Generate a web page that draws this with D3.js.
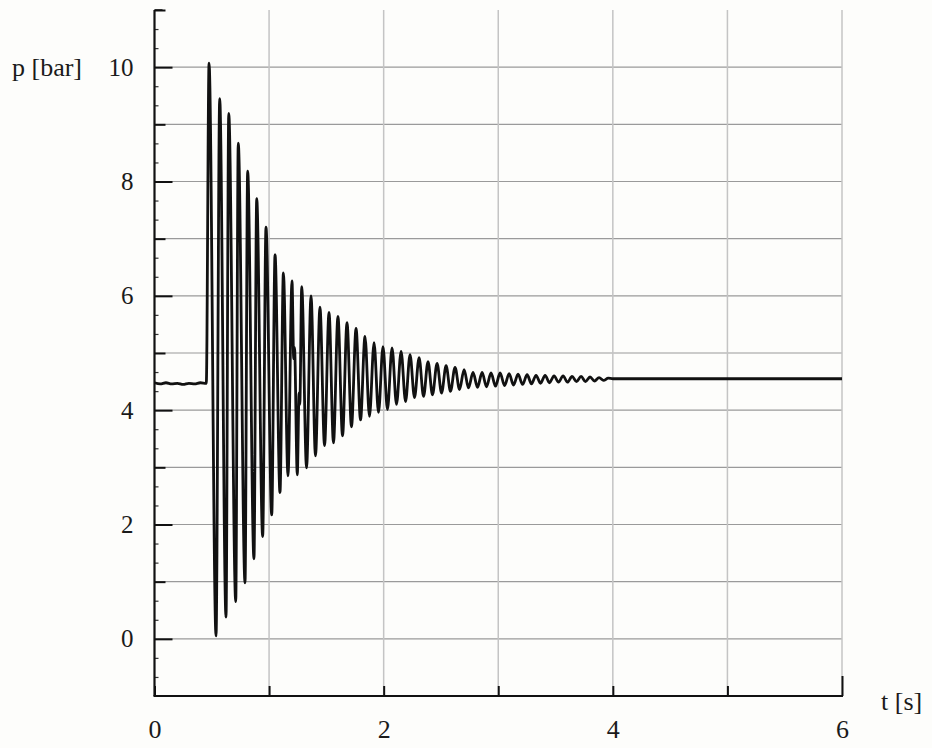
<!DOCTYPE html>
<html>
<head>
<meta charset="utf-8">
<script src="https://cdn.jsdelivr.net/npm/d3@7"></script>
<style>
  html, body { margin: 0; padding: 0; background: #fdfdfb; }
  svg { display: block; }
</style>
</head>
<body>
<svg id="chart" width="932" height="748"></svg>
<script>
// ---- data ----
const xTicks = [0, 1, 2, 3, 4, 5, 6];
const xTickLabels = ["0", "", "2", "", "4", "", "6"];
const yTicksMajor = [0, 2, 4, 6, 8, 10];
const yTickLabels = ["0", "2", "4", "6", "8", "10"];
const yTicksOdd = [1, 3, 5, 7, 9, 11];
const yTicksMinor = [-0.667, -0.333, 0.333, 0.667, 1.333, 1.667, 2.333, 2.667, 3.333, 3.667,
  4.333, 4.667, 5.333, 5.667, 6.333, 6.667, 7.333, 7.667, 8.333, 8.667,
  9.333, 9.667, 10.333, 10.667];
const xTitle = "t [s]";
const yTitle = "p [bar]";

// steady pressure before the valve event
const preTimes  = [0.00, 0.05, 0.10, 0.15, 0.20, 0.25, 0.30, 0.35, 0.40, 0.452];
const preValues = [4.48, 4.46, 4.48, 4.46, 4.47, 4.45, 4.47, 4.46, 4.48, 4.47];

// oscillation maxima
const peakTimes = [0.476, 0.569, 0.648, 0.731, 0.813, 0.892, 0.973, 1.052, 1.125, 1.200,
  1.285, 1.366, 1.444, 1.523, 1.601, 1.680, 1.759, 1.837, 1.916, 1.994,
  2.073, 2.152, 2.230, 2.309, 2.387, 2.466, 2.545, 2.623, 2.702, 2.780,
  2.859, 2.937, 3.016, 3.095, 3.173, 3.252, 3.330, 3.409, 3.487, 3.566,
  3.644, 3.723, 3.801, 3.880];
const peakValues = [10.07, 9.45, 9.19, 8.67, 8.18, 7.70, 7.20, 6.72, 6.40, 6.26,
  6.16, 6.00, 5.80, 5.71, 5.64, 5.53, 5.43, 5.29, 5.18, 5.11,
  5.09, 5.03, 4.97, 4.92, 4.85, 4.82, 4.78, 4.75, 4.71, 4.66,
  4.66, 4.65, 4.65, 4.64, 4.63, 4.62, 4.61, 4.61, 4.60, 4.60,
  4.59, 4.59, 4.58, 4.57];

// oscillation minima
const troughTimes = [0.537, 0.624, 0.709, 0.790, 0.868, 0.944, 1.023, 1.095, 1.165, 1.246,
  1.327, 1.405, 1.484, 1.562, 1.641, 1.719, 1.798, 1.876, 1.955, 2.033,
  2.112, 2.191, 2.269, 2.348, 2.426, 2.505, 2.583, 2.662, 2.740, 2.819,
  2.897, 2.976, 3.055, 3.133, 3.212, 3.290, 3.369, 3.447, 3.526, 3.604,
  3.683, 3.761, 3.840, 3.919];
const troughValues = [0.05, 0.38, 0.65, 0.98, 1.40, 1.79, 2.17, 2.56, 2.85, 2.87,
  2.99, 3.20, 3.38, 3.43, 3.55, 3.71, 3.83, 3.89, 3.96, 4.01,
  4.10, 4.15, 4.22, 4.24, 4.27, 4.30, 4.33, 4.36, 4.39, 4.40,
  4.41, 4.42, 4.43, 4.44, 4.45, 4.46, 4.47, 4.48, 4.49, 4.49,
  4.50, 4.50, 4.51, 4.52];

// small secondary kinks visible around t = 1.2 - 1.3 s
const kinkTimes  = [1.215, 1.222, 1.262, 1.268];
const kinkValues = [4.90, 5.10, 4.30, 4.10];

// settled pressure
const postTimes  = [3.96, 4.00, 4.50, 5.00, 5.50, 6.00];
const postValues = [4.56, 4.55, 4.55, 4.55, 4.55, 4.55];

// ---- build series ----
function pairs(ts, vs) { return ts.map((t, i) => ({ t: t, p: vs[i] })); }
const series = [].concat(
  pairs(preTimes, preValues),
  pairs(peakTimes, peakValues),
  pairs(troughTimes, troughValues),
  pairs(kinkTimes, kinkValues),
  pairs(postTimes, postValues)
).sort((a, b) => a.t - b.t);

// ---- drawing ----
const FONT = '"Liberation Serif", "DejaVu Serif", "Times New Roman", serif';
const svg = d3.select("#chart");
svg.append("rect").attr("width", 932).attr("height", 748).attr("fill", "#fdfdfb");

const x = d3.scaleLinear().domain([0, 6]).range([154.5, 842]);
const y = d3.scaleLinear().domain([-1, 11]).range([696, 10]);

// grid
const grid = svg.append("g");
grid.selectAll("line.h").data(d3.range(0, 11)).enter().append("line")
  .attr("x1", x(0)).attr("x2", x(6))
  .attr("y1", d => y(d)).attr("y2", d => y(d))
  .attr("stroke", "#9a9a9a").attr("stroke-width", 1.2);
grid.selectAll("line.v").data(xTicks.slice(1)).enter().append("line")
  .attr("x1", d => x(d)).attr("x2", d => x(d))
  .attr("y1", y(11)).attr("y2", y(-1))
  .attr("stroke", "#c4c4c4").attr("stroke-width", 1.5);

// data line
const line = d3.line().x(d => x(d.t)).y(d => y(d.p)).curve(d3.curveMonotoneX);
svg.append("path").datum(series)
  .attr("d", line)
  .attr("fill", "none")
  .attr("stroke", "#111")
  .attr("stroke-width", 2.8)
  .attr("stroke-linejoin", "round");

// y axis
const yAxisMajor = d3.axisLeft(y).tickValues(yTicksMajor)
  .tickSize(-18).tickPadding(21)
  .tickFormat((d, i) => yTickLabels[i]);
const gy = svg.append("g").attr("transform", `translate(${x(0)},0)`).call(yAxisMajor)
  .attr("font-family", FONT);
gy.select(".domain").remove();
gy.selectAll("line").attr("stroke", "#111").attr("stroke-width", 2);
gy.selectAll("text").attr("font-size", 25).attr("fill", "#1a1a1a")
  .attr("font-family", FONT).style("font-family", FONT);

const yAxisOdd = d3.axisLeft(y).tickValues(yTicksOdd).tickSize(-11).tickFormat("");
const gyo = svg.append("g").attr("transform", `translate(${x(0)},0)`).call(yAxisOdd);
gyo.select(".domain").remove();
gyo.selectAll("line").attr("stroke", "#111").attr("stroke-width", 2);

const yAxisMinor = d3.axisLeft(y).tickValues(yTicksMinor).tickSize(-4).tickFormat("");
const gym = svg.append("g").attr("transform", `translate(${x(0)},0)`).call(yAxisMinor);
gym.select(".domain").remove();
gym.selectAll("line").attr("stroke", "#333").attr("stroke-width", 1.2);

// x axis
const xAxis = d3.axisBottom(x).tickValues(xTicks)
  .tickSize(-10).tickPadding(24)
  .tickFormat((d, i) => xTickLabels[i]);
const gx = svg.append("g").attr("transform", `translate(0,${y(-1)})`).call(xAxis)
  .attr("font-family", FONT);
gx.select(".domain").remove();
gx.selectAll("line").attr("stroke", "#111").attr("stroke-width", 2);
gx.selectAll("line").filter(d => d === 6).attr("y2", -20);
gx.selectAll("text").attr("font-size", 26).attr("fill", "#1a1a1a")
  .attr("font-family", FONT).style("font-family", FONT);

// axis lines
svg.append("line").attr("x1", x(0)).attr("x2", x(0)).attr("y1", y(11)).attr("y2", y(-1))
  .attr("stroke", "#111").attr("stroke-width", 2.2);
svg.append("line").attr("x1", x(0) - 1).attr("x2", x(6) + 1).attr("y1", y(-1)).attr("y2", y(-1))
  .attr("stroke", "#111").attr("stroke-width", 2.2);
svg.append("line").attr("x1", x(0)).attr("x2", x(0) + 8).attr("y1", y(11)).attr("y2", y(11))
  .attr("stroke", "#111").attr("stroke-width", 1.5);

// titles
svg.append("text").attr("x", 12).attr("y", y(10) + 9)
  .attr("font-family", FONT).style("font-family", FONT)
  .attr("fill", "#1a1a1a").attr("font-size", 26).text(yTitle);
svg.append("text").attr("x", 881).attr("y", y(-1) + 14)
  .attr("font-family", FONT).style("font-family", FONT)
  .attr("fill", "#1a1a1a").attr("font-size", 26).text(xTitle);
</script>
</body>
</html>
